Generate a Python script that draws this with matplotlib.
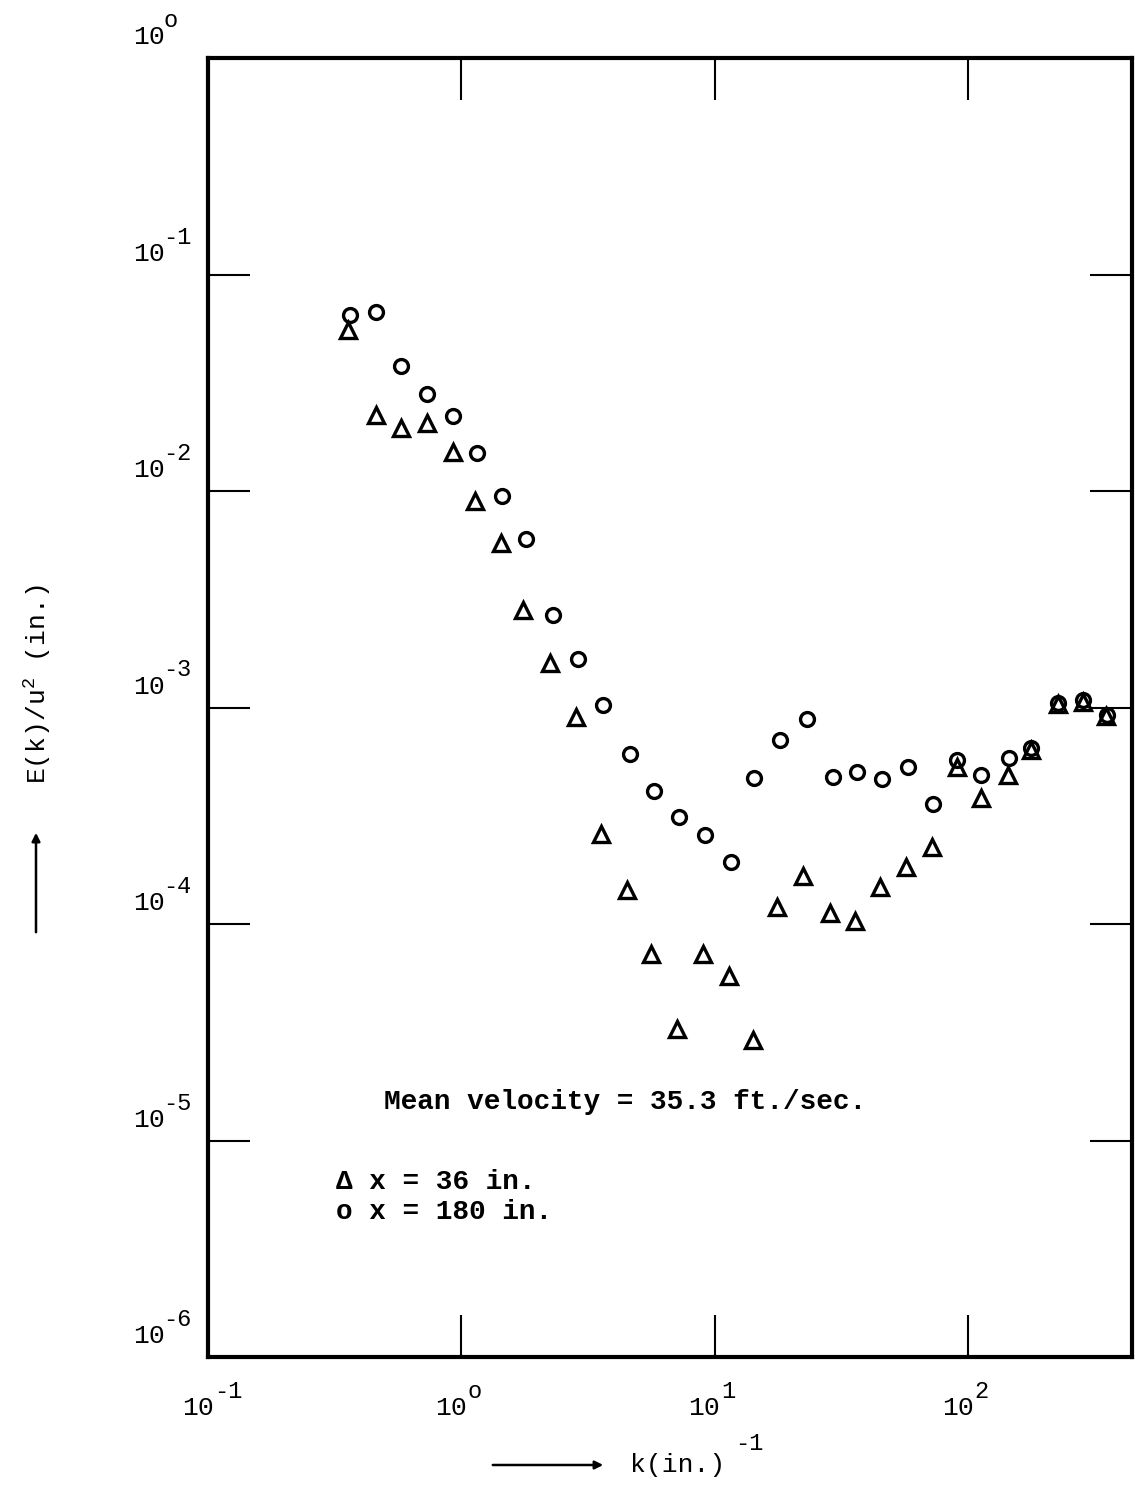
import numpy as np
import matplotlib
matplotlib.use("Agg")
import matplotlib.pyplot as plt

plt.rcParams['font.family'] = ['Liberation Mono', 'DejaVu Sans']

# x = 36 in. (triangles)
k_36 = [0.357, 0.460, 0.580, 0.732, 0.927, 1.13, 1.43, 1.75, 2.24, 2.83,
        3.55, 4.50, 5.60, 7.10, 9.00, 11.4, 14.2, 17.7, 22.4, 28.5, 36.0,
        45.0, 57.0, 72.0, 90.5, 113, 144, 177, 227, 285, 351]
E_36 = [0.0554, 0.0224, 0.0195, 0.0206, 0.0151, 0.0090, 0.00575, 0.00282,
        0.00161, 0.000904, 0.000260, 0.000144, 7.27e-5, 3.28e-5, 7.27e-5,
        5.75e-5, 2.91e-5, 1.20e-4, 1.67e-4, 1.12e-4, 1.03e-4, 1.48e-4,
        1.83e-4, 2.27e-4, 5.31e-4, 3.82e-4, 4.88e-4, 6.37e-4, 1.04e-3,
        1.06e-3, 9.14e-4]

# x = 180 in. (circles)
k_180 = [0.365, 0.460, 0.578, 0.732, 0.927, 1.15, 1.45, 1.80, 2.30, 2.90,
         3.63, 4.63, 5.76, 7.23, 9.16, 11.6, 14.3, 18.1, 23.2, 29.3, 36.5,
         45.8, 58.0, 72.8, 90.5, 113, 146, 177, 227, 285, 355]
E_180 = [0.0650, 0.0671, 0.0378, 0.0280, 0.0222, 0.0150, 0.00948, 0.00600,
         0.00267, 0.00168, 0.00103, 6.10e-4, 4.11e-4, 3.12e-4, 2.58e-4,
         1.93e-4, 4.72e-4, 7.08e-4, 8.85e-4, 4.78e-4, 5.04e-4, 4.68e-4,
         5.31e-4, 3.58e-4, 5.73e-4, 4.88e-4, 5.85e-4, 6.50e-4, 1.05e-3,
         1.08e-3, 9.23e-4]

xticks = [1, 10, 100]
yticks = [1e-1, 1e-2, 1e-3, 1e-4, 1e-5]
xlabels = [(0.1, '-1'), (1, 'o'), (10, '1'), (100, '2')]
ylabels = [(1, 'o'), (1e-1, '-1'), (1e-2, '-2'), (1e-3, '-3'),
           (1e-4, '-4'), (1e-5, '-5'), (1e-6, '-6')]

fig = plt.figure(figsize=(11.35, 14.85), dpi=100)
ax = fig.add_axes([208/1135, 1 - 1357/1485, (1132-208)/1135, (1357-58)/1485])

ax.plot(k_36, E_36, ls='none', marker='^', ms=11, mfc='white', mec='black', mew=2.4)
ax.plot(k_180, E_180, ls='none', marker='o', ms=10, mfc='none', mec='black', mew=2.4)

ax.set_xscale('log')
ax.set_yscale('log')
ax.set_xlim(0.1, 10**2.648)
ax.set_ylim(1e-6, 1)

ax.set_xticks(xticks)
ax.set_yticks(yticks)
ax.minorticks_off()
ax.tick_params(which='major', direction='in', length=30, width=1.5,
               top=True, right=True, labelbottom=False, labelleft=False)
for s in ax.spines.values():
    s.set_linewidth(3)

# tick labels: "10" plus a separate exponent
for v, e in xlabels:
    ax.annotate('10', xy=(v, 0), xycoords=('data', 'axes fraction'),
                xytext=(4, -37), textcoords='offset points', ha='right', va='center',
                fontsize=19, annotation_clip=False)
    ax.annotate(e, xy=(v, 0), xycoords=('data', 'axes fraction'),
                xytext=(4.5, -25), textcoords='offset points', ha='left', va='center',
                fontsize=17, annotation_clip=False)
for v, e in ylabels:
    ax.annotate('10', xy=(0, v), xycoords=('axes fraction', 'data'),
                xytext=(-54, 15), textcoords='offset points', ha='left', va='center',
                fontsize=19, annotation_clip=False)
    ax.annotate(e, xy=(0, v), xycoords=('axes fraction', 'data'),
                xytext=(-32, 27), textcoords='offset points', ha='left', va='center',
                fontsize=17, annotation_clip=False)

# axis labels with arrows
fig.text(38/1135, 1 - 684/1485, r'$\mathregular{E(k)/u^2}$ (in.)', rotation=90,
         ha='center', va='center', fontsize=19)
fig.add_artist(matplotlib.patches.FancyArrowPatch(
    (36/1135, 1 - 935/1485), (36/1135, 1 - 830/1485), transform=fig.transFigure,
    arrowstyle='-|>', mutation_scale=12, lw=1.8, color='black'))

fig.text(630/1135, 1 - 1465/1485, 'k(in.)', ha='left', va='center', fontsize=19)
fig.text(735/1135, 1 - 1443/1485, '-1', ha='left', va='center', fontsize=17)
fig.add_artist(matplotlib.patches.FancyArrowPatch(
    (490/1135, 1 - 1465/1485), (606/1135, 1 - 1465/1485), transform=fig.transFigure,
    arrowstyle='-|>', mutation_scale=12, lw=1.8, color='black'))

# annotations
ax.text(0.19, 0.196, 'Mean velocity = 35.3 ft./sec.', transform=ax.transAxes,
        fontsize=20, fontweight='bold', ha='left', va='center')
ax.text(0.138, 0.135, u'\u0394 x = 36 in.', transform=ax.transAxes,
        fontsize=20, fontweight='bold', ha='left', va='center')
ax.text(0.138, 0.112, u'o x = 180 in.', transform=ax.transAxes,
        fontsize=20, fontweight='bold', ha='left', va='center')

fig.savefig('out.png', dpi=100)
